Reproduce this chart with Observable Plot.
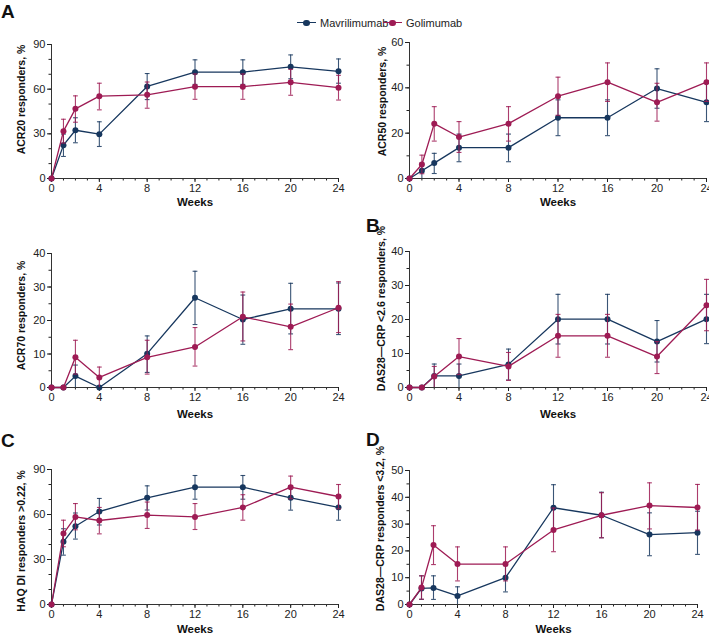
<!DOCTYPE html>
<html>
<head>
<meta charset="utf-8">
<script src="https://cdn.jsdelivr.net/npm/d3@7"></script>
<script src="https://cdn.jsdelivr.net/npm/@observablehq/plot@0.6"></script>
<style>
  html, body { margin: 0; padding: 0; background: #fff; }
  body { width: 709px; height: 635px; position: relative; overflow: hidden; font-family: "Liberation Sans", Arial, sans-serif; }
  .panel { position: absolute; }
  .letter { position: absolute; font-weight: bold; font-size: 19px; color: #111; line-height: 1; }
  .legend { position: absolute; top: 17px; font-size: 11px; color: #222; display: flex; align-items: center; }
  .sym { position: relative; width: 19px; height: 10px; margin-right: 4px; }
  .sym .ln { position: absolute; left: 0; right: 0; top: 4px; height: 1.4px; }
  .sym .dt { position: absolute; left: 6px; top: 1.5px; width: 6.5px; height: 6.5px; border-radius: 50%; }
</style>
</head>
<body>
<script>
// ---------- data ----------
const weeks = [0, 1, 2, 4, 8, 12, 16, 20, 24];
const weekTicks = [0, 4, 8, 12, 16, 20, 24];
const seriesNames = ["Mavrilimumab", "Golimumab"];
const seriesColors = ["#17375e", "#9e1b54"];

// ACR20
const acr20Mav   = [0, 22.4, 32.4, 29.8, 61.8, 71.4, 71.4, 75.0, 72.0];
const acr20MavLo = [0, 14.8, 24.0, 21.5, 53.0, 63.2, 63.2, 67.0, 64.0];
const acr20MavHi = [0, 29.8, 40.8, 38.1, 70.5, 79.7, 79.7, 83.0, 80.3];
const acr20Gol   = [0, 31.8, 46.8, 55.3, 56.2, 61.7, 61.7, 64.6, 61.0];
const acr20GolLo = [0, 23.8, 37.8, 46.1, 47.2, 53.2, 53.2, 55.9, 52.7];
const acr20GolHi = [0, 39.8, 55.5, 64.0, 64.8, 70.2, 70.2, 73.3, 69.3];

// ACR50
const acr50Mav   = [0, 3.4, 6.8, 13.6, 13.6, 26.8, 26.8, 39.7, 33.6];
const acr50MavLo = [0, 0, 2.2, 7.4, 7.4, 18.9, 18.9, 31.0, 25.1];
const acr50MavHi = [0, 6.8, 11.1, 19.6, 19.6, 34.7, 34.7, 48.4, 42.1];
const acr50Gol   = [0, 6.2, 24.2, 18.3, 24.2, 36.3, 42.5, 33.6, 42.5];
const acr50GolLo = [0, 2.1, 16.5, 11.5, 16.5, 27.9, 34.0, 25.3, 34.0];
const acr50GolHi = [0, 10.3, 31.7, 25.1, 31.7, 44.7, 51.0, 42.0, 51.0];

// ACR70
const acr70Mav   = [0, 0, 3.4, 0, 10.1, 26.8, 20.3, 23.5, 23.5];
const acr70MavLo = [0, 0, 0, 0, 4.5, 18.8, 12.9, 16.0, 15.8];
const acr70MavHi = [0, 0, 6.7, 0, 15.4, 34.7, 27.6, 31.1, 31.2];
const acr70Gol   = [0, 0, 9.0, 3.0, 9.0, 12.1, 21.1, 18.1, 23.8];
const acr70GolLo = [0, 0, 4.0, 0, 4.0, 6.4, 13.9, 11.3, 16.4];
const acr70GolHi = [0, 0, 14.1, 6.1, 14.1, 17.9, 28.5, 24.9, 31.6];

// DAS28-CRP < 2.6
const das26Mav   = [0, 0, 3.4, 3.4, 6.8, 20.1, 20.1, 13.5, 20.1];
const das26MavLo = [0, 0, 0, 0, 2.2, 12.8, 12.8, 7.5, 12.9];
const das26MavHi = [0, 0, 6.9, 6.9, 11.3, 27.4, 27.4, 19.7, 27.4];
const das26Gol   = [0, 0, 3.2, 9.1, 6.2, 15.2, 15.2, 9.1, 24.2];
const das26GolLo = [0, 0, 0, 3.8, 2.1, 8.9, 8.9, 4.1, 16.7];
const das26GolHi = [0, 0, 6.2, 14.4, 10.3, 21.5, 21.5, 13.5, 31.8];

// HAQ DI responders > 0.22
const haqMav   = [0, 41.8, 52.2, 62.0, 71.1, 78.2, 78.2, 71.1, 64.7];
const haqMavLo = [0, 32.9, 43.6, 53.0, 63.0, 70.2, 70.2, 62.9, 56.2];
const haqMavHi = [0, 50.5, 61.0, 70.7, 79.1, 86.0, 86.0, 79.3, 73.0];
const haqGol   = [0, 47.3, 58.4, 56.0, 59.6, 58.4, 64.7, 78.2, 72.0];
const haqGolLo = [0, 38.5, 49.8, 47.1, 50.7, 50.0, 56.2, 70.5, 63.8];
const haqGolHi = [0, 56.2, 67.3, 64.7, 68.3, 67.3, 73.2, 85.6, 80.0];

// DAS28-CRP < 3.2
const das32Mav   = [0, 6.0, 6.2, 3.2, 10.0, 36.1, 33.3, 26.1, 26.8];
const das32MavLo = [0, 1.9, 1.9, 0, 4.7, 27.6, 24.9, 18.2, 18.7];
const das32MavHi = [0, 10.7, 10.7, 6.6, 14.5, 44.7, 41.9, 34.2, 34.8];
const das32Gol   = [0, 6.3, 22.2, 15.1, 15.1, 27.8, 33.3, 36.9, 36.2];
const das32GolLo = [0, 2.0, 14.9, 8.8, 8.8, 19.7, 24.9, 28.2, 27.8];
const das32GolHi = [0, 10.7, 29.4, 21.5, 21.5, 36.0, 41.7, 45.4, 44.8];

// ---------- helpers ----------
function rows(vals, lo, hi, s) {
  return weeks.map((w, i) => ({week: w, value: vals[i], lo: lo[i], hi: hi[i], series: s}));
}

const panels = [
  {left: 0, top: 0, width: 350, height: 210, mt: 44, mb: 32, ml: 51, mr: 12, ymax: 90, major: 30, minor: 10,
   label: "ACR20 responders, %", lx: 21, ldy: -12, wdy: 24,
   mav: rows(acr20Mav, acr20MavLo, acr20MavHi, 0), gol: rows(acr20Gol, acr20GolLo, acr20GolHi, 1)},
  {left: 350, top: 0, width: 359, height: 210, mt: 42, mb: 32, ml: 59, mr: 3, ymax: 60, major: 20, minor: 10,
   label: "ACR50 responders, %", lx: 32, ldy: -9, wdy: 24,
   mav: rows(acr50Mav, acr50MavLo, acr50MavHi, 0), gol: rows(acr50Gol, acr50GolLo, acr50GolHi, 1)},
  {left: 0, top: 210, width: 350, height: 210, mt: 43, mb: 33, ml: 51, mr: 12, ymax: 40, major: 10, minor: 5,
   label: "ACR70 responders, %", lx: 21, ldy: -5, wdy: 27,
   mav: rows(acr70Mav, acr70MavLo, acr70MavHi, 0), gol: rows(acr70Gol, acr70GolLo, acr70GolHi, 1)},
  {left: 350, top: 210, width: 359, height: 210, mt: 41, mb: 33, ml: 59, mr: 3, ymax: 40, major: 10, minor: 5,
   label: "DAS28\u2014CRP <2.6 responders, %", lx: 31, ldy: -11, wdy: 27,
   mav: rows(das26Mav, das26MavLo, das26MavHi, 0), gol: rows(das26Gol, das26GolLo, das26GolHi, 1)},
  {left: 0, top: 420, width: 350, height: 215, mt: 49, mb: 31, ml: 51, mr: 12, ymax: 90, major: 30, minor: 10,
   label: "HAQ DI responders >0.22, %", lx: 21, ldy: 4, wdy: 25,
   mav: rows(haqMav, haqMavLo, haqMavHi, 0), gol: rows(haqGol, haqGolLo, haqGolHi, 1)},
  {left: 350, top: 420, width: 359, height: 215, mt: 50, mb: 31, ml: 59, mr: 12, ymax: 50, major: 10, minor: 5,
   label: "DAS28\u2014CRP responders <3.2, %", lx: 30, ldy: -9, wdy: 25,
   mav: rows(das32Mav, das32MavLo, das32MavHi, 0), gol: rows(das32Gol, das32GolLo, das32GolHi, 1)}
];

function seriesMarks(data, color) {
  const err = data.filter(d => d.hi > d.lo);
  return [
    Plot.ruleX(err, {x: "week", y1: "lo", y2: "hi", stroke: color, strokeWidth: 1.1, strokeOpacity: 0.85}),
    Plot.link(err, {x1: d => d.week - 0.2, x2: d => d.week + 0.2, y1: "hi", y2: "hi", stroke: color, strokeWidth: 1.1, strokeOpacity: 0.85}),
    Plot.link(err.filter(d => d.lo > 0), {x1: d => d.week - 0.2, x2: d => d.week + 0.2, y1: "lo", y2: "lo", stroke: color, strokeWidth: 1.1, strokeOpacity: 0.85}),
    Plot.line(data, {x: "week", y: "value", stroke: color, strokeWidth: 1.3}),
    Plot.dot(data, {x: "week", y: "value", r: 3, fill: color, stroke: "none"})
  ];
}

for (const p of panels) {
  const chart = Plot.plot({
    width: p.width,
    height: p.height,
    marginTop: p.mt, marginBottom: p.mb, marginLeft: p.ml, marginRight: p.mr,
    style: {fontFamily: "'Liberation Sans', Arial, sans-serif", fontSize: "11px", color: "#222", background: "transparent", overflow: "visible"},
    x: {domain: [0, 24]},
    y: {domain: [0, p.ymax]},
    marks: [
      Plot.axisX({ticks: weekTicks, tickSize: 4, tickPadding: 2, label: null, fontSize: 11}),
      Plot.axisX({ticks: d3.range(0, 25), tickSize: 2.5, tickFormat: () => "", label: null}),
      Plot.axisY({ticks: d3.range(0, p.ymax + 0.01, p.major), tickSize: 4, tickPadding: 2, label: null, fontSize: 11}),
      Plot.axisY({ticks: d3.range(0, p.ymax + 0.01, p.minor), tickSize: 2.5, tickFormat: () => "", label: null}),
      Plot.ruleX([0], {stroke: "#333", strokeWidth: 1}),
      Plot.ruleY([0], {stroke: "#333", strokeWidth: 1}),
      Plot.text([p.label], {text: d => d, frameAnchor: "left", textAnchor: "middle", lineAnchor: "middle", dx: -(p.ml - p.lx), dy: p.ldy, rotate: -90, fontWeight: "bold", fontSize: 10.5, fill: "#111"}),
      Plot.text(["Weeks"], {text: d => d, frameAnchor: "bottom", textAnchor: "middle", lineAnchor: "middle", dy: p.wdy, fontWeight: "bold", fontSize: 11.5, fill: "#111"}),
      ...seriesMarks(p.mav, seriesColors[0]),
      ...seriesMarks(p.gol, seriesColors[1])
    ]
  });
  const div = document.createElement("div");
  div.className = "panel";
  div.style.left = p.left + "px";
  div.style.top = p.top + "px";
  div.style.width = p.width + "px";
  div.style.height = p.height + "px";
  div.appendChild(chart);
  document.body.appendChild(div);
}

// panel letters
const letters = [["A", 1, 2], ["B", 366, 216], ["C", 1, 431], ["D", 366, 430]];
for (const [t, x, y] of letters) {
  const el = document.createElement("div");
  el.className = "letter";
  el.style.left = x + "px";
  el.style.top = y + "px";
  el.textContent = t;
  document.body.appendChild(el);
}

// legend
const legendPos = [297, 383];
seriesNames.forEach((name, i) => {
  const lg = document.createElement("div");
  lg.className = "legend";
  lg.style.left = legendPos[i] + "px";
  lg.innerHTML = `<span class="sym"><span class="ln" style="background:${seriesColors[i]}"></span><span class="dt" style="background:${seriesColors[i]}"></span></span><span>${name}</span>`;
  document.body.appendChild(lg);
});
</script>
</body>
</html>
